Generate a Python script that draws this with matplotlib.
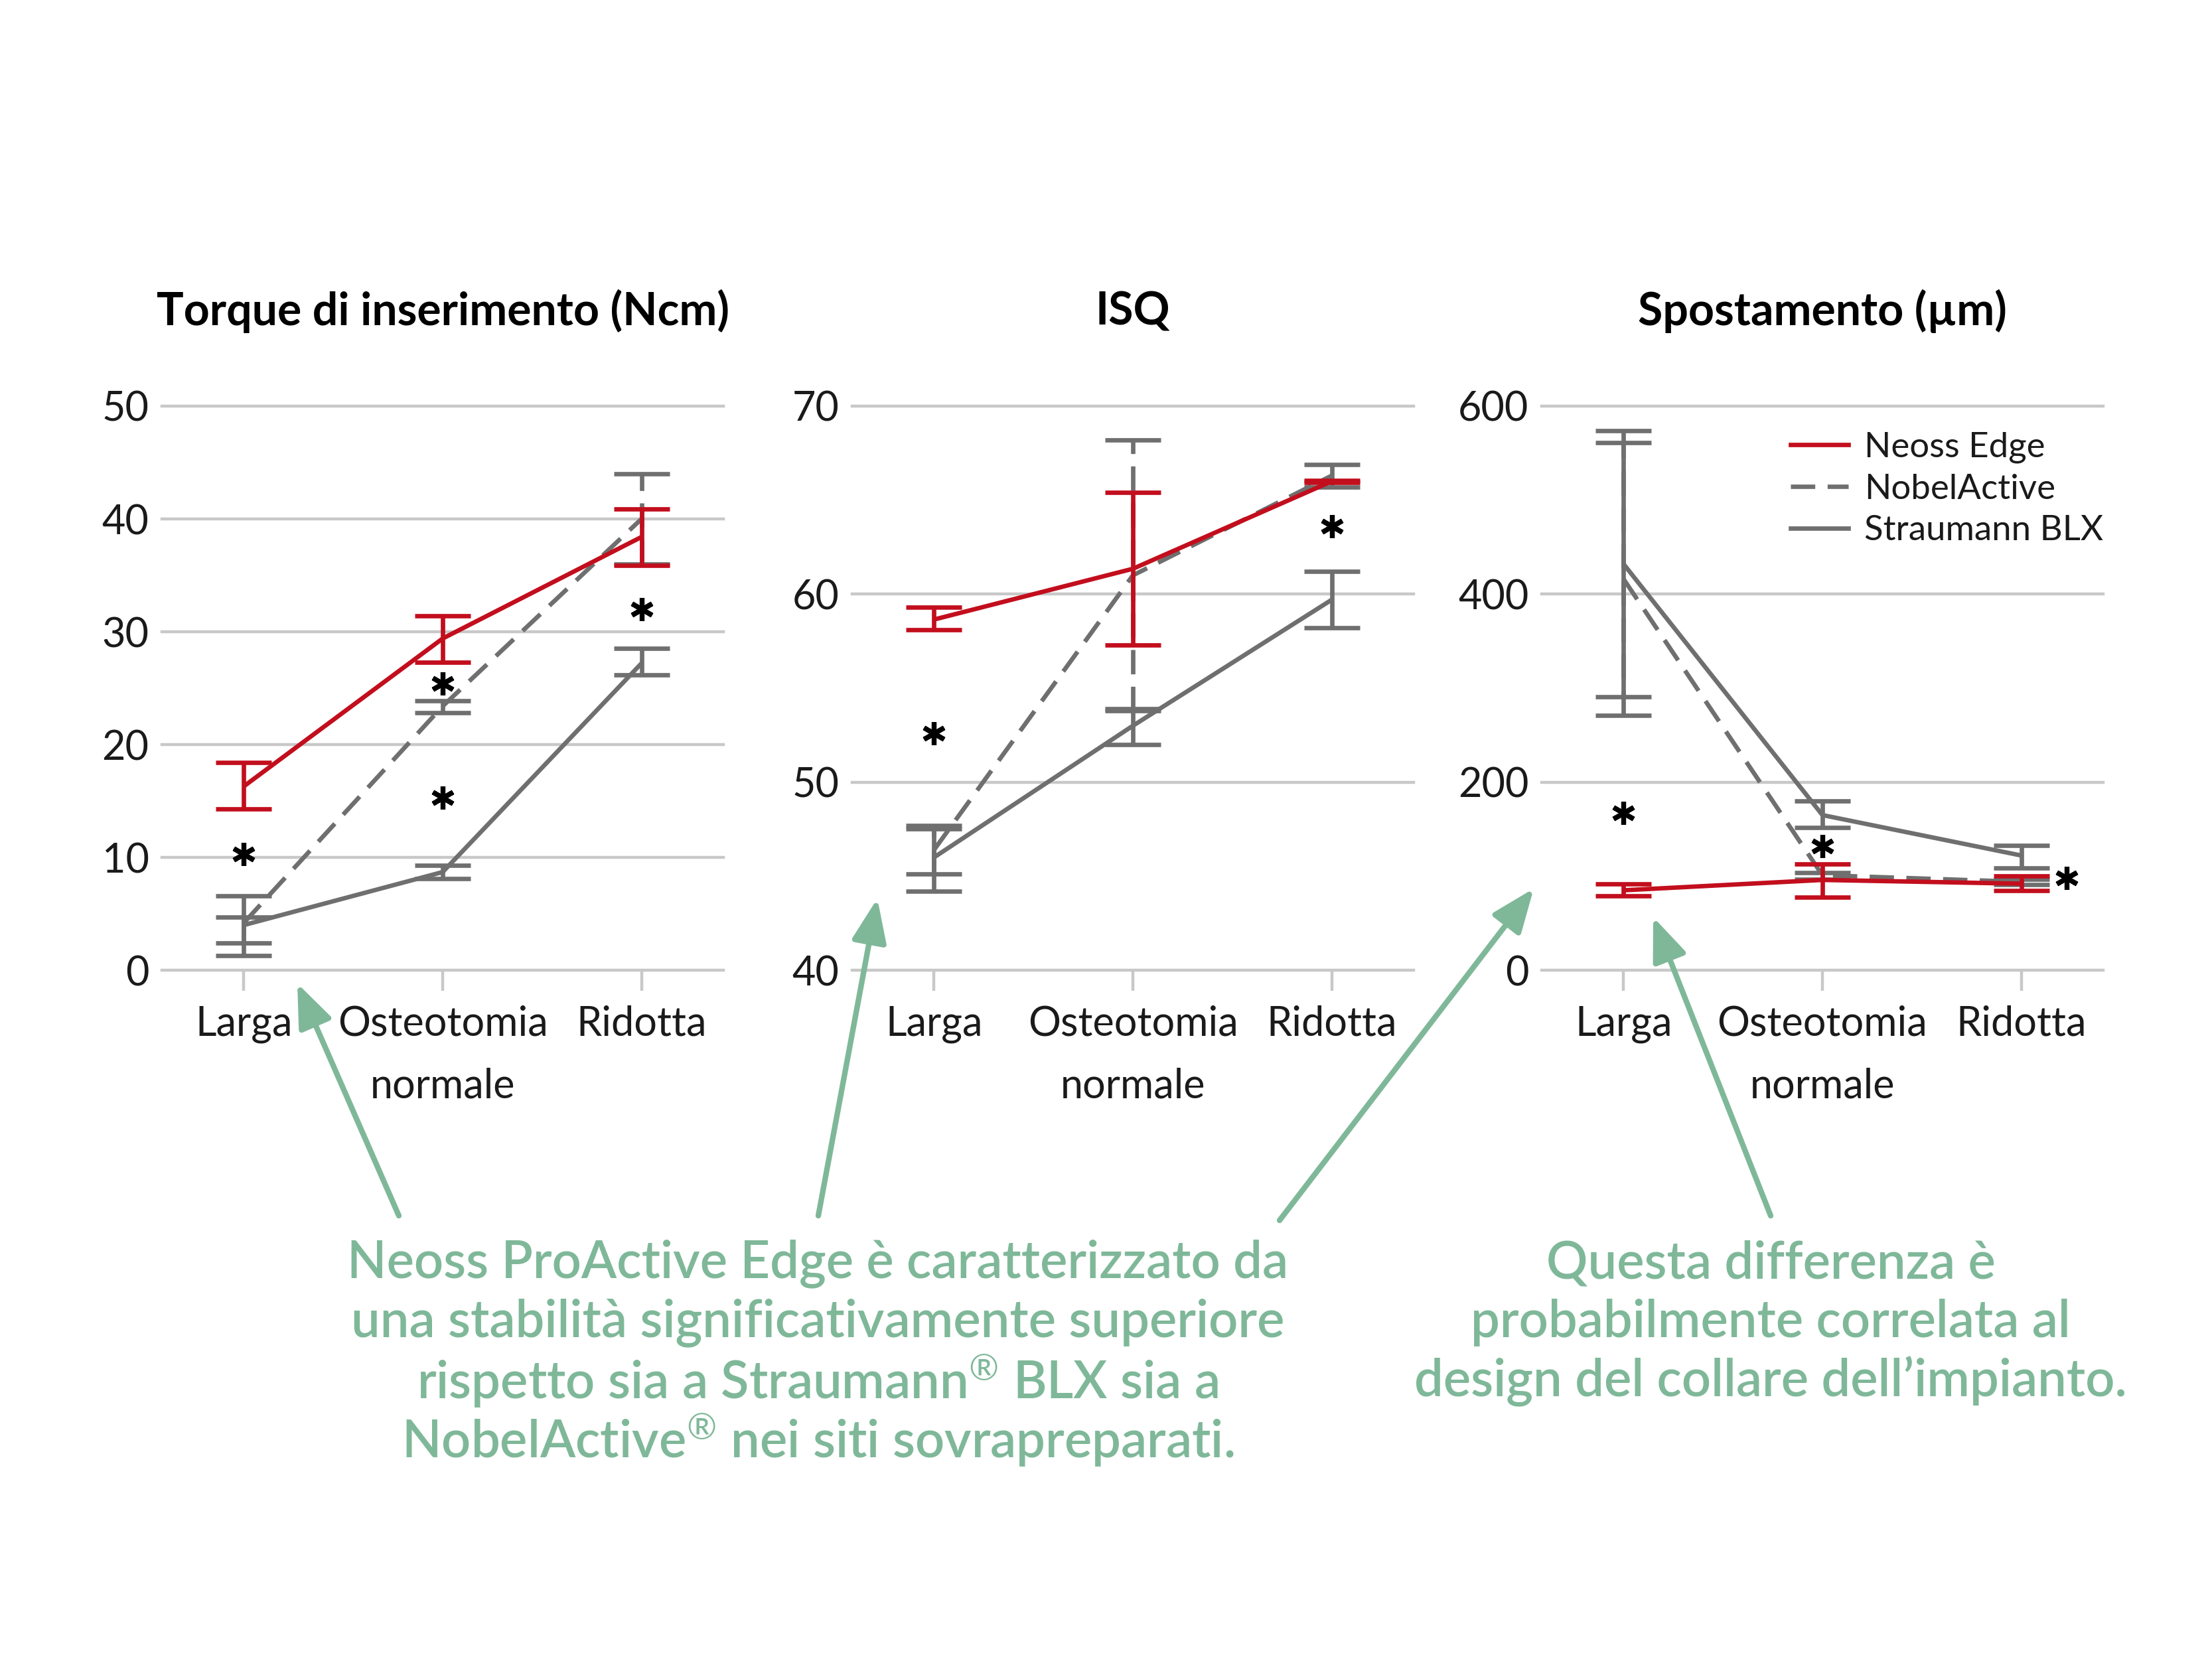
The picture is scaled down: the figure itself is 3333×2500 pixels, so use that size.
import matplotlib
matplotlib.use("Agg")
import matplotlib.pyplot as plt
from matplotlib.lines import Line2D
from matplotlib.patches import FancyArrowPatch
import numpy as np

# ---------------- data ----------------
categories = ["Larga", "Osteotomia\nnormale", "Ridotta"]
series_names = ["Neoss Edge", "NobelActive", "Straumann BLX"]

torque_neoss = [16.3, 29.4, 38.4]
torque_neoss_low = [14.3, 27.3, 35.9]
torque_neoss_high = [18.4, 31.4, 40.9]
torque_nobel = [4.2, 23.4, 40.0]
torque_nobel_low = [2.4, 22.8, 36.0]
torque_nobel_high = [4.7, 23.9, 44.0]
torque_straumann = [4.0, 8.7, 27.2]
torque_straumann_low = [1.3, 8.1, 26.2]
torque_straumann_high = [6.6, 9.3, 28.5]
torque_star_x = [0, 1, 1, 2]
torque_star_y = [10.3, 25.4, 15.3, 32.0]

isq_neoss = [58.65, 61.35, 66.0]
isq_neoss_low = [58.1, 57.3, 65.95]
isq_neoss_high = [59.3, 65.4, 66.05]
isq_nobel = [46.4, 61.0, 66.3]
isq_nobel_low = [45.1, 53.8, 65.7]
isq_nobel_high = [47.7, 68.2, 66.9]
isq_straumann = [46.0, 53.0, 59.7]
isq_straumann_low = [44.2, 52.0, 58.2]
isq_straumann_high = [47.5, 53.9, 61.2]
isq_star_x = [0, 2]
isq_star_y = [52.6, 63.6]

spost_neoss = [85, 96, 92]
spost_neoss_low = [79, 78, 85]
spost_neoss_high = [92, 113, 100]
spost_nobel = [416, 101, 94]
spost_nobel_low = [271, 97, 91]
spost_nobel_high = [561, 104, 97]
spost_straumann = [432, 165, 122]
spost_straumann_low = [291, 152, 109]
spost_straumann_high = [574, 180, 133]
spost_star_x = [0, 1, 2.23]
spost_star_y = [167, 132, 98]

titles = ["Torque di inserimento (Ncm)", "ISQ", "Spostamento (µm)"]
yticks_list = [[0, 10, 20, 30, 40, 50], [40, 50, 60, 70], [0, 200, 400, 600]]

text_left = ["Neoss ProActive Edge è caratterizzato da",
             "una stabilità significativamente superiore",
             "rispetto sia a Straumann$^{®}$ BLX sia a",
             "NobelActive$^{®}$ nei siti sovrapreparati."]
text_right = ["Questa differenza è",
              "probabilmente correlata al",
              "design del collare dell’impianto."]

# ---------------- style ----------------
RED = "#c20e1d"
GRAY = "#6f6f6f"
GRID = "#c8c8c8"
GREEN = "#7fb899"
TXT = "#1a1a1a"

plt.rcParams['font.family'] = ['Lato', 'DejaVu Sans']
plt.rcParams['mathtext.fontset'] = 'custom'
plt.rcParams['mathtext.rm'] = 'Lato'
plt.rcParams['mathtext.it'] = 'Lato'
plt.rcParams['mathtext.bf'] = 'Lato:bold'

W, H = 3333, 2500
DPI = 200
fig = plt.figure(figsize=(W / DPI, H / DPI), dpi=DPI)

lefts = [244, 1284, 2323]
ax_w = 846
ax_bottom = 1 - 1462 / H
ax_h = 850 / H

panels = [
    (torque_neoss, torque_neoss_low, torque_neoss_high,
     torque_nobel, torque_nobel_low, torque_nobel_high,
     torque_straumann, torque_straumann_low, torque_straumann_high,
     torque_star_x, torque_star_y),
    (isq_neoss, isq_neoss_low, isq_neoss_high,
     isq_nobel, isq_nobel_low, isq_nobel_high,
     isq_straumann, isq_straumann_low, isq_straumann_high,
     isq_star_x, isq_star_y),
    (spost_neoss, spost_neoss_low, spost_neoss_high,
     spost_nobel, spost_nobel_low, spost_nobel_high,
     spost_straumann, spost_straumann_low, spost_straumann_high,
     spost_star_x, spost_star_y),
]

LW = 2.4
CAP = 15
DASH = (0, (5.5, 2.8))
x = np.arange(len(categories))


def draw_series(ax, mean, low, high, color, ls, z):
    mean = np.asarray(mean, float)
    yerr = [mean - np.asarray(low, float), np.asarray(high, float) - mean]
    ax.plot(x, mean, color=color, lw=LW, ls=ls, zorder=z, solid_capstyle='butt',
            dash_capstyle='butt')
    eb = ax.errorbar(x, mean, yerr=yerr, fmt='none', ecolor=color, elinewidth=LW,
                     capsize=CAP, capthick=LW, zorder=z)
    if ls != '-':
        for bc in eb[2]:
            bc.set_linestyle(ls)
    return eb


for i, (ax_l, data) in enumerate(zip(lefts, panels)):
    ax = fig.add_axes([ax_l / W, ax_bottom, ax_w / W, ax_h])
    (nm, nl, nh, bm, bl, bh, sm, sl, sh, sx, sy) = data
    yt = yticks_list[i]
    ax.set_ylim(yt[0], yt[-1])
    ax.set_xlim(-0.412, 2.412)
    for v in yt:
        ax.axhline(v, color=GRID, lw=1.6, zorder=0, clip_on=False)
    draw_series(ax, sm, sl, sh, GRAY, '-', 3)
    draw_series(ax, bm, bl, bh, GRAY, DASH, 3)
    draw_series(ax, nm, nl, nh, RED, '-', 5)
    ax.plot(sx, sy, ls='none', marker=(6, 2, 0), markersize=12.5,
            markeredgewidth=2.6, color='black', zorder=6)

    for sp in ax.spines.values():
        sp.set_visible(False)
    ax.set_yticks(yt)
    ax.set_yticklabels([str(v) for v in yt], fontsize=22, color=TXT)
    ax.tick_params(axis='y', length=0, pad=7)
    ax.set_xticks(x)
    ax.set_xticklabels(categories, fontsize=22, color=TXT)
    ax.tick_params(axis='x', length=11, width=1.6, color=GRID, pad=8)
    for lbl in ax.get_xticklabels():
        lbl.set_linespacing(1.8)
    ax.set_title(titles[i], fontsize=24.5, fontweight='bold', color='black', pad=44)

    if i == 2:
        handles = [Line2D([], [], color=RED, lw=LW),
                   Line2D([], [], color=GRAY, lw=LW, ls=DASH),
                   Line2D([], [], color=GRAY, lw=LW)]
        leg = ax.legend(handles, series_names, loc='upper right',
                        bbox_to_anchor=(1.0, 0.955), frameon=False,
                        fontsize=19, handlelength=1.65, handletextpad=0.45,
                        labelspacing=0.3, borderpad=0, borderaxespad=0)
        for t in leg.get_texts():
            t.set_color(TXT)

# ---------------- annotation texts ----------------
line_step = 89
y0 = 1904
for k, s in enumerate(text_left):
    fig.text(1232 / W, 1 - (y0 + k * line_step) / H, s, ha='center', va='center',
             fontsize=28, color=GREEN, fontweight='semibold')
for k, s in enumerate(text_right):
    fig.text(2668 / W, 1 - (y0 + k * line_step) / H, s, ha='center', va='center',
             fontsize=28, color=GREEN, fontweight='semibold')

# ---------------- arrows ----------------
arrows = [((601, 1832), (448, 1482)),
          ((1233, 1832), (1322, 1354)),
          ((1928, 1839), (2311, 1339)),
          ((2668, 1832), (2491, 1382))]
for (tx, ty), (hx, hy) in arrows:
    fig.add_artist(FancyArrowPatch(
        (tx / W, 1 - ty / H), (hx / W, 1 - hy / H),
        transform=fig.transFigure,
        arrowstyle='-|>,head_length=0.5,head_width=0.2',
        mutation_scale=40, color=GREEN, lw=3.0, shrinkA=0, shrinkB=0))

fig.savefig("out.png", dpi=DPI, facecolor='white')
